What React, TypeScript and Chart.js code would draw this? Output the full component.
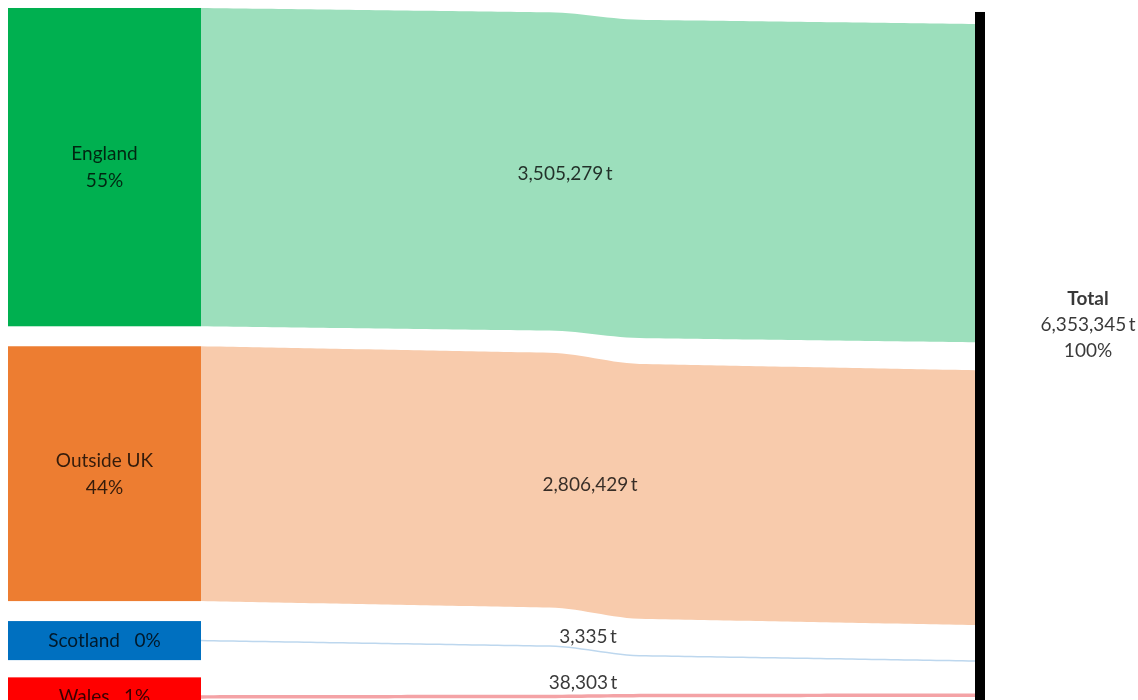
import React, { useEffect, useRef } from "react";
import { Chart, registerables } from "chart.js";

Chart.register(...registerables);

// ---- data ----
const sources = ["England", "Outside UK", "Scotland", "Wales"];
const tonnes = [3505279, 2806429, 3335, 38303];
const shares = ["55%", "44%", "0%", "1%"];
const totalName = "Total";
const totalTonnes = 6353345;
const totalShare = "100%";

// ---- styles ----
const nodeColors = ["#00B050", "#ED7D31", "#0070C0", "#FF0000"];
const flowColors = ["#9CDFBC", "#F8CBAC", "#BDD7EE", "#F4A3A6"];
const textColor = "rgba(0,0,0,0.78)";
const FONT = "Lato";

// ---- layout (y in tonnes, x in layout units) ----
const Y_MIN = -88000;
const Y_MAX = 7621000;
const X_MIN = 0;
const X_MAX = 1138;
const leftGaps = [220000, 220000, 190000];
const minLeftNode = 430000;
const rightStart = 176000;
const rightGaps = [308000, 308000, 200000];
const minRightSlot = 176000;
const totalTop = 44000;
const col = { nodeL: 8, nodeR: 201, barL: 975, barR: 985, total: 1088 };
const flowLabelX = [565, 590, 588, 583];

const fmt = (n: number) => n.toLocaleString("en-GB") + "\u2009t";

const ease = (t: number) => {
  const s = Math.min(1, Math.max(0, (t - 0.45) / 0.12));
  const sm = s * s * (3 - 2 * s);
  return 0.6 * t + 0.4 * sm;
};

const sankeyPlugin = {
  id: "sankeyDraw",
  afterDraw(chart: any) {
    const ctx: CanvasRenderingContext2D = chart.ctx;
    const xs = chart.scales.x;
    const ys = chart.scales.y;
    const X = (v: number) => xs.getPixelForValue(v);
    const Y = (v: number) => ys.getPixelForValue(v);

    // left layout
    let cur = 0;
    const left = tonnes.map((v, i) => {
      const h = Math.max(v, minLeftNode);
      const start = cur;
      cur = start + h + (leftGaps[i] ?? 0);
      const center = start + h / 2;
      return { start, end: start + h, center, flowTop: center - v / 2 };
    });
    // right layout
    let rc = rightStart;
    const right = tonnes.map((v, i) => {
      const slot = Math.max(v, minRightSlot);
      const start = rc;
      rc = start + slot + (rightGaps[i] ?? 0);
      return { flowTop: start + slot / 2 - v / 2 };
    });

    ctx.save();
    // flows
    const x0 = X(col.nodeR);
    const x1 = X(col.barL);
    const N = 120;
    tonnes.forEach((v, i) => {
      const lt = Y(left[i].flowTop);
      const lb = Y(left[i].flowTop + v);
      const rt = Y(right[i].flowTop);
      const rb = Y(right[i].flowTop + v);
      let thick = lb - lt;
      const minT = 1.5;
      const pad = thick < minT ? (minT - thick) / 2 : 0;
      ctx.beginPath();
      for (let k = 0; k <= N; k++) {
        const t = k / N;
        const x = x0 + (x1 - x0) * t;
        const y = lt + (rt - lt) * ease(t) - pad;
        if (k === 0) ctx.moveTo(x, y);
        else ctx.lineTo(x, y);
      }
      for (let k = N; k >= 0; k--) {
        const t = k / N;
        const x = x0 + (x1 - x0) * t;
        const y = lb + (rb - lb) * ease(t) + pad;
        ctx.lineTo(x, y);
      }
      ctx.closePath();
      ctx.fillStyle = flowColors[i];
      ctx.fill();
    });

    // nodes
    ctx.textAlign = "center";
    ctx.textBaseline = "middle";
    tonnes.forEach((v, i) => {
      const yt = Y(left[i].start);
      const yb = Y(left[i].end);
      ctx.fillStyle = nodeColors[i];
      ctx.fillRect(X(col.nodeL), yt, X(col.nodeR) - X(col.nodeL), yb - yt);
      ctx.fillStyle = textColor;
      ctx.font = `19px ${FONT}`;
      const cx = (X(col.nodeL) + X(col.nodeR)) / 2;
      const cy = (yt + yb) / 2;
      if (yb - yt > 80) {
        ctx.fillText(sources[i], cx, cy - 13);
        ctx.fillText(shares[i], cx, cy + 14);
      } else {
        ctx.fillText(`${sources[i]}   ${shares[i]}`, cx, cy);
      }
    });

    // flow labels
    tonnes.forEach((v, i) => {
      const t = 0.5;
      const top = Y(left[i].flowTop) + (Y(right[i].flowTop) - Y(left[i].flowTop)) * ease(t);
      const bot = Y(left[i].flowTop + v) + (Y(right[i].flowTop + v) - Y(left[i].flowTop + v)) * ease(t);
      const mid = (top + bot) / 2;
      const y = bot - top < 12 ? mid - 13 : mid;
      ctx.fillStyle = textColor;
      ctx.font = `19px ${FONT}`;
      ctx.fillText(fmt(v), X(flowLabelX[i]), y);
    });

    // total bar
    ctx.fillStyle = "#000";
    ctx.fillRect(X(col.barL), Y(totalTop), X(col.barR) - X(col.barL), Y(Y_MAX) - Y(totalTop));

    // total label
    const rEng = right[0].flowTop;
    const rOut = right[1].flowTop + tonnes[1];
    const cy = Y((rEng + rOut) / 2);
    const tx = X(col.total);
    ctx.fillStyle = textColor;
    ctx.font = `bold 19px ${FONT}`;
    ctx.fillText(totalName, tx, cy - 26);
    ctx.font = `19px ${FONT}`;
    ctx.fillText(fmt(totalTonnes), tx, cy);
    ctx.fillText(totalShare, tx, cy + 26);
    ctx.restore();
  },
};

export default function App() {
  const ref = useRef<HTMLCanvasElement | null>(null);
  useEffect(() => {
    document.body.style.margin = "0";
    document.body.style.overflow = "hidden";
    const canvas = ref.current;
    if (!canvas) return;
    const chart = new Chart(canvas, {
      type: "scatter",
      data: { datasets: [] },
      options: {
        animation: false,
        responsive: false,
        maintainAspectRatio: false,
        layout: { padding: 0 },
        plugins: { legend: { display: false }, tooltip: { enabled: false }, title: { display: false } },
        scales: {
          x: { type: "linear", min: X_MIN, max: X_MAX, display: false },
          y: { type: "linear", min: Y_MIN, max: Y_MAX, reverse: true, display: false },
        },
      },
      plugins: [sankeyPlugin],
    });
    return () => chart.destroy();
  }, []);
  return (
    <div style={{ width: 1138, height: 700, background: "#fff" }}>
      <canvas ref={ref} width={1138} height={700} style={{ display: "block" }} />
    </div>
  );
}
